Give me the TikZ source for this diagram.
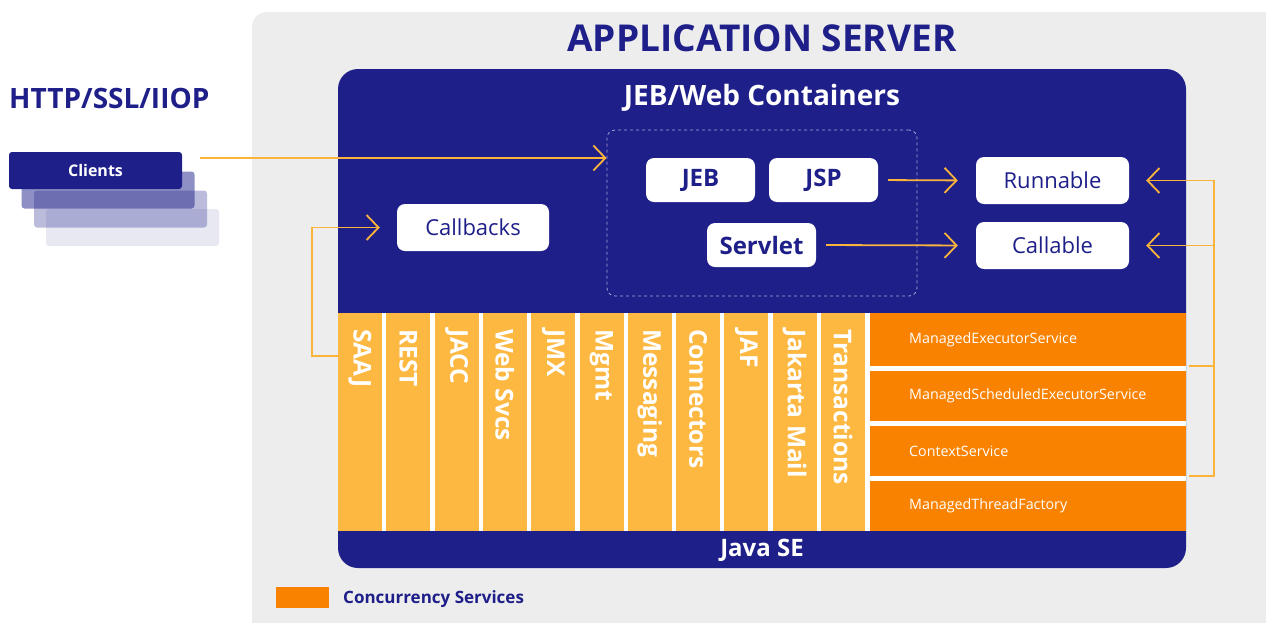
\documentclass[tikz,border=0pt]{standalone}
\usepackage{fontspec}
\setmainfont{Open Sans}
\usetikzlibrary{arrows.meta,calc}
\definecolor{navy}{RGB}{30,31,137}
\definecolor{lorange}{RGB}{253,184,66}
\definecolor{dorange}{RGB}{249,131,0}
\definecolor{bggrey}{RGB}{237,237,237}
\definecolor{arrowc}{RGB}{250,180,60}
\definecolor{dashc}{RGB}{165,165,215}
\newcommand{\fsz}[1]{\fontsize{#1}{#1}\selectfont}
\begin{document}
\begin{tikzpicture}[x=1pt,y=-1pt,
  arr/.style={draw=arrowc, line width=1.8pt, line join=miter, -{Straight Barb[length=12pt,width=25pt]}},
  oline/.style={draw=arrowc, line width=1.8pt},
  wbox/.style={fill=white, rounded corners=8pt, minimum width=109pt, minimum height=44pt, inner sep=0pt, text=navy, font=\bfseries\fsz{24}},
  sbox/.style={fill=white, rounded corners=8pt, minimum width=153pt, minimum height=47pt, inner sep=0pt, text=navy, font=\fsz{22}},
  cbox/.style={rounded corners=3pt, minimum width=173pt, minimum height=37pt, inner sep=0pt},
  colbox/.style={fill=lorange, minimum width=44pt, minimum height=218pt, inner sep=0pt},
  coltext/.style={text=white, font=\bfseries\fsz{24.5}, inner sep=0pt, rotate=-90, anchor=west},
  crow/.style={fill=dorange, minimum width=316pt, inner sep=0pt},
  crtext/.style={text=white, font=\fsz{14.3}, inner sep=0pt, anchor=west}
]
\useasboundingbox (0,0) rectangle (1266,622);
% background
\fill[bggrey, rounded corners=15pt] (252,12) rectangle (1290,640);
\node[text=navy, font=\bfseries\fsz{37}] (title) at (762,38) {APPLICATION SERVER};
\node[text=navy, font=\bfseries\fsz{28}, anchor=west, inner sep=0pt] (proto) at (9,98) {HTTP/SSL/IIOP};
% clients stack
\node[cbox, fill=navy, fill opacity=0.1] (cl4) at (132.5,227.5) {};
\node[cbox, fill=navy, fill opacity=0.3] (cl3) at (120.5,209) {};
\node[cbox, fill=navy, fill opacity=0.5] (cl2) at (108,190) {};
\node[cbox, fill=navy, text=white, font=\bfseries\fsz{16}] (clients) at (95.5,170.5) {Clients};
% main container
\fill[navy, rounded corners=20pt] (338,69) rectangle (1186,568);
\node[text=white, font=\bfseries\fsz{28}] (jebweb) at (762,97.5) {JEB/Web Containers};
\node[draw=dashc, dashed, line width=0.8pt, rounded corners=8pt, minimum width=310pt, minimum height=166pt, inner sep=0pt] (dashbox) at (762,213) {};
\node[wbox] (jeb) at (700.5,180) {JEB};
\node[wbox] (jsp) at (823.5,180) {JSP};
\node[wbox] (servlet) at (761.5,245) {Servlet};
\node[sbox] (runnable) at (1052.5,180.5) {Runnable};
\node[sbox] (callable) at (1052.5,245.5) {Callable};
\node[sbox, minimum width=152pt] (callbacks) at (473,227.5) {Callbacks};
% services band
\fill[white] (338,313) rectangle (1186,531);
\foreach \t [count=\i from 0] in {SAAJ,REST,JACC,Web Svcs,JMX,Mgmt,Messaging,Connectors,JAF,Jakarta Mail,Transactions} {
  \pgfmathsetmacro{\cx}{338+48.3*\i+22}
  \node[colbox] (c\i) at (\cx,422) {};
  \node[coltext] (t\i) at (\cx,329) {\t};
}
\node[crow, minimum height=53pt] (r1) at (1028,339.5) {};
\node[crow, minimum height=50pt] (r2) at (1028,396) {};
\node[crow, minimum height=50pt] (r3) at (1028,451) {};
\node[crow, minimum height=50pt] (r4) at (1028,506) {};
\node[crtext] (rt1) at (909,339.5) {ManagedExecutorService};
\node[crtext] (rt2) at (909,396) {ManagedScheduledExecutorService};
\node[crtext] (rt3) at (909,451) {ContextService};
\node[crtext] (rt4) at (909,506) {ManagedThreadFactory};
\node[text=white, font=\bfseries\fsz{24}] (javase) at (762,550) {Java SE};
% legend
\node[fill=dorange, minimum width=53pt, minimum height=21pt, inner sep=0pt] (leg) at (302.5,597.5) {};
\node[text=navy, font=\bfseries\fsz{17}, anchor=west, inner sep=0pt] (legt) at (343,599) {Concurrency Services};
% connectors
\coordinate (cs) at ($(clients.east)+(18,-12.5)$);
\draw[arr] (cs) -- (cs -| dashbox.west);
\draw[arr, shorten <=10pt, shorten >=18pt] (jsp.east) -- (runnable.west);
\draw[arr, shorten <=10pt, shorten >=18pt] (servlet.east) -- (callable.west);
\coordinate (bx) at (1214,0);
\draw[oline] ($(r1.south east)+(3,0)$) -- (bx |- r1.south east);
\draw[arr] ($(r3.south east)+(3,0)$) -- (bx |- r3.south east) |- ($(runnable.east)+(17,0)$);
\draw[arr] (bx |- callable.east) -- ($(callable.east)+(17,0)$);
\draw[arr] ($(c0.north west)+(0,43)$) -- ++(-26,0) |- ($(callbacks.west)+(-17,0)$);
\end{tikzpicture}
\end{document}
